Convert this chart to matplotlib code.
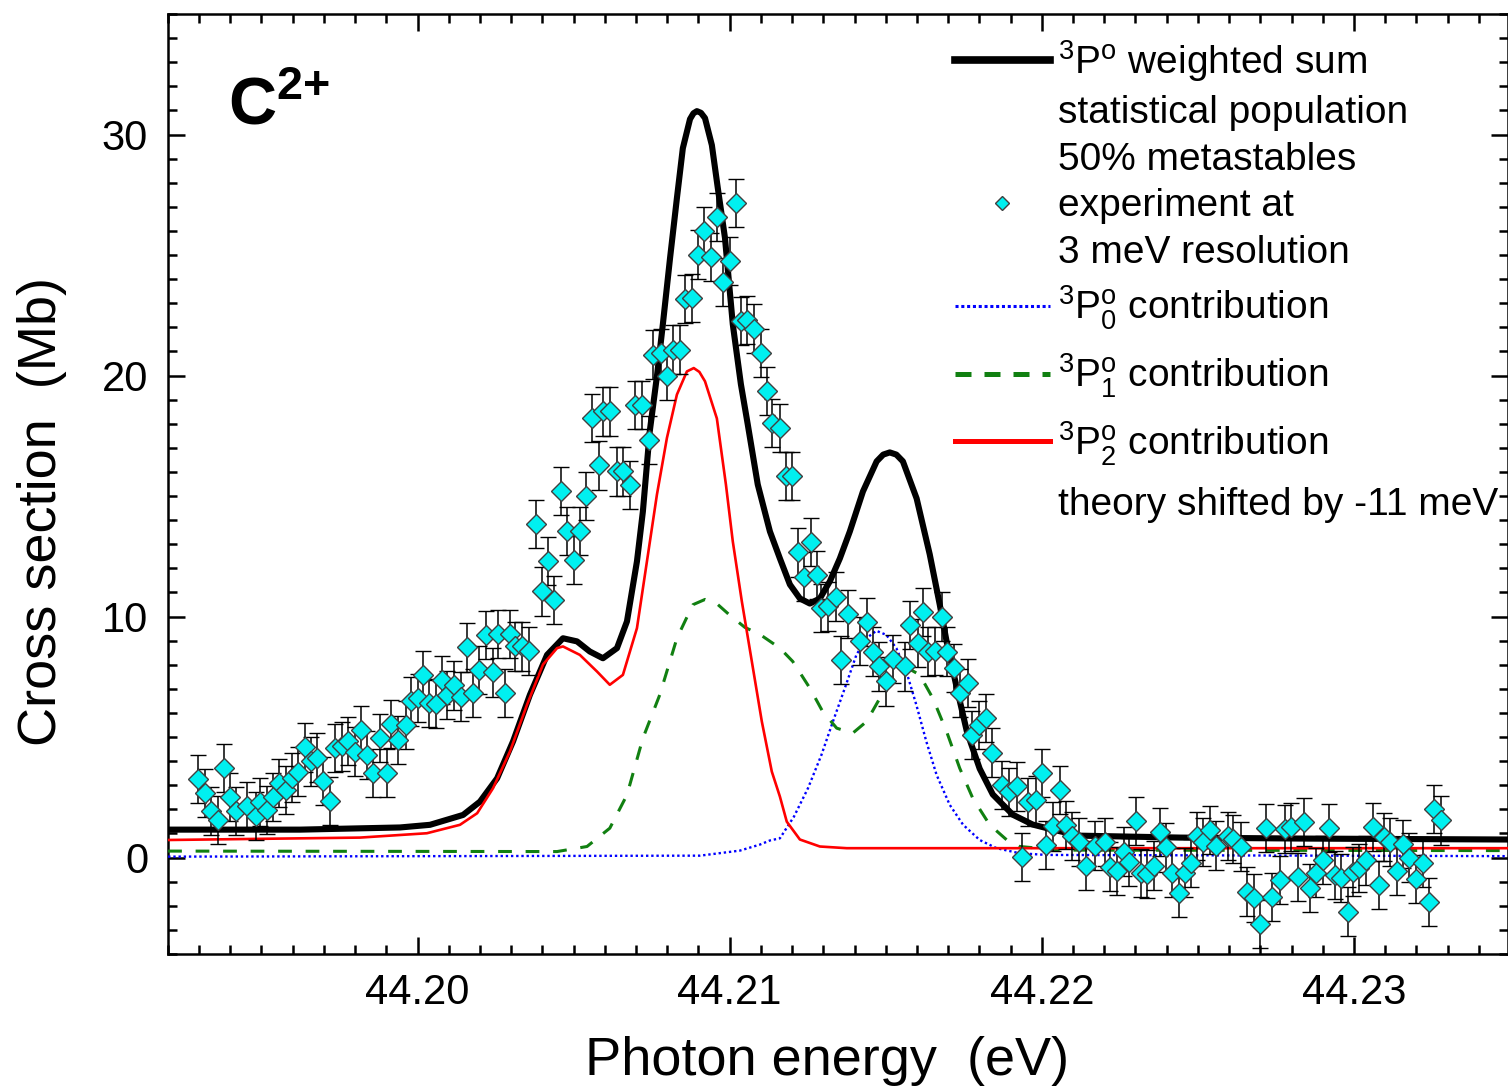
import matplotlib
matplotlib.use("Agg")
import matplotlib.pyplot as plt
from matplotlib.lines import Line2D
from matplotlib.ticker import MultipleLocator, FormatStrFormatter

# experiment (photon energy in eV, cross section in Mb)
exp_e = [44.19298, 44.19320, 44.19338, 44.19362, 44.19380, 44.19400, 44.19419, 44.19455,
         44.19482, 44.19496, 44.19517, 44.19538, 44.19557, 44.19579, 44.19599, 44.19618,
         44.19640, 44.19658, 44.19677, 44.19698, 44.19720, 44.19736, 44.19757, 44.19778,
         44.19800, 44.19819, 44.19839, 44.19858, 44.19880, 44.19901, 44.19915, 44.19939,
         44.19963, 44.19978, 44.20000, 44.20019, 44.20038, 44.20059, 44.20079, 44.20095,
         44.20117, 44.20138, 44.20159, 44.20179, 44.20198, 44.20219, 44.20241, 44.20259,
         44.20280, 44.20296, 44.20312, 44.20334, 44.20358, 44.20379, 44.20400, 44.20419,
         44.20438, 44.20459, 44.20478, 44.20501, 44.20520, 44.20539, 44.20560, 44.20580,
         44.20595, 44.20616, 44.20638, 44.20659, 44.20680, 44.20696, 44.20720, 44.20741,
         44.20755, 44.20779, 44.20798, 44.20817, 44.20841, 44.20857, 44.20880, 44.20897,
         44.20918, 44.20940, 44.20958, 44.20979, 44.21001, 44.21020, 44.21035, 44.21057,
         44.21077, 44.21102, 44.21120, 44.21137, 44.21161, 44.21180, 44.21201, 44.21219,
         44.21238, 44.21259, 44.21280, 44.21294, 44.21315, 44.21340, 44.21358, 44.21379,
         44.21417, 44.21440, 44.21458, 44.21479, 44.21500, 44.21522, 44.21561, 44.21577,
         44.21604, 44.21620, 44.21636, 44.21657, 44.21680, 44.21696, 44.21718, 44.21737,
         44.21762, 44.21778, 44.21799, 44.21820, 44.21841, 44.21874, 44.21895, 44.21919,
         44.21938, 44.21956, 44.21980, 44.22001, 44.22015, 44.22036, 44.22057, 44.22077,
         44.22098, 44.22119, 44.22141, 44.22169, 44.22201, 44.22219, 44.22240, 44.22262,
         44.22280, 44.22301, 44.22317, 44.22336, 44.22358, 44.22379, 44.22399, 44.22418,
         44.22439, 44.22458, 44.22479, 44.22496, 44.22518, 44.22538, 44.22558, 44.22596,
         44.22614, 44.22637, 44.22656, 44.22680, 44.22699, 44.22719, 44.22738, 44.22762,
         44.22778, 44.22797, 44.22820, 44.22840, 44.22859, 44.22879, 44.22901, 44.22920,
         44.22938, 44.22959, 44.22980, 44.22997, 44.23017, 44.23038, 44.23060, 44.23080,
         44.23095, 44.23116, 44.23139, 44.23157, 44.23178, 44.23198, 44.23220, 44.23241,
         44.23258, 44.23280]
exp_cs = [3.27, 2.67, 1.94, 1.56, 3.71, 2.53, 1.94, 2.15,
          1.74, 2.32, 1.98, 2.53, 3.08, 2.81, 3.32, 3.57,
          4.57, 3.99, 4.15, 3.18, 2.35, 4.54, 4.61, 4.84,
          4.40, 5.30, 4.26, 3.50, 4.95, 3.50, 5.53, 4.89,
          5.51, 6.48, 6.61, 7.58, 6.41, 6.36, 7.38, 6.75,
          7.14, 6.68, 8.72, 6.82, 7.79, 9.22, 7.68, 9.27,
          6.82, 9.27, 8.76, 8.76, 8.58, 13.84, 11.04, 12.29,
          10.70, 15.22, 13.56, 12.36, 13.56, 14.99, 18.24, 16.27,
          18.51, 18.51, 16.02, 16.02, 15.47, 18.79, 18.79, 17.34,
          20.87, 20.93, 19.97, 21.08, 21.08, 23.19, 23.22, 25.02,
          26.01, 24.92, 26.57, 23.87, 24.74, 27.16, 22.25, 22.32,
          21.95, 20.93, 19.37, 18.03, 17.82, 15.82, 15.82, 12.66,
          11.66, 13.09, 11.74, 10.35, 10.42, 10.83, 8.21, 10.10,
          8.97, 9.77, 8.55, 7.93, 7.31, 8.25, 7.93, 9.66,
          8.90, 10.18, 8.55, 8.58, 10.00, 8.55, 7.86, 6.82,
          7.24, 5.09, 5.51, 5.78, 4.36, 3.02, 2.71, 2.95,
          0.04, 2.32, 2.37, 3.50, 0.53, 1.29, 2.82, 1.36,
          0.89, 0.66, -0.33, 0.50, 0.66, -0.37, -0.54, 0.25,
          -0.17, 1.52, -0.65, -0.68, -0.33, 1.06, 0.42, -0.62,
          -1.48, -0.62, -0.21, 0.91, 0.66, 1.16, 0.50, 0.91,
          0.77, 0.46, -1.41, -1.68, -2.77, 1.23, -1.62, -0.93,
          1.20, 1.27, -0.79, 1.47, -1.27, -0.62, -0.10, 1.23,
          -0.71, -0.86, -2.24, -0.58, -0.44, -0.12, 1.27, -1.13,
          0.87, 0.66, -0.56, 0.58, 0.00, -0.89, -0.24, -1.83,
          2.03, 1.54]
exp_err = 1.0

# theory: weighted sum
sum_e = [44.19201, 44.19624, 44.19944, 44.20040, 44.20146, 44.20200, 44.20255, 44.20306,
         44.20360, 44.20415, 44.20466, 44.20511, 44.20552, 44.20594, 44.20639, 44.20671,
         44.20703, 44.20722, 44.20744, 44.20767, 44.20786, 44.20809, 44.20831, 44.20850,
         44.20873, 44.20884, 44.20895, 44.20908, 44.20921, 44.20943, 44.20962, 44.20985,
         44.21010, 44.21036, 44.21058, 44.21090, 44.21129, 44.21161, 44.21193, 44.21225,
         44.21257, 44.21289, 44.21321, 44.21353, 44.21385, 44.21427, 44.21471, 44.21492,
         44.21513, 44.21534, 44.21555, 44.21599, 44.21641, 44.21673, 44.21695, 44.21728,
         44.21760, 44.21801, 44.21843, 44.21907, 44.21971, 44.22035, 44.22121, 44.22442,
         44.22826, 44.23492]
sum_cs = [1.16, 1.16, 1.25, 1.36, 1.77, 2.32, 3.29, 4.82,
          6.75, 8.41, 9.10, 8.97, 8.55, 8.27, 8.69, 9.80,
          12.29, 14.36, 17.68, 19.97, 22.13, 24.87, 27.36, 29.43,
          30.64, 30.88, 30.97, 30.90, 30.68, 29.56, 27.78, 25.71,
          22.13, 19.64, 17.97, 15.48, 13.53, 12.41, 11.33, 10.75,
          10.54, 10.75, 11.46, 12.41, 13.53, 15.19, 16.44, 16.72,
          16.81, 16.72, 16.44, 14.90, 12.58, 10.50, 8.97, 7.02,
          5.23, 3.69, 2.62, 1.78, 1.37, 1.16, 0.91, 0.83,
          0.79, 0.75]

# theory: 3P0 contribution
p0_e = [44.19201, 44.20905, 44.21033, 44.21097, 44.21129, 44.21161, 44.21206, 44.21251,
        44.21294, 44.21331, 44.21369, 44.21406, 44.21438, 44.21470, 44.21502, 44.21534,
        44.21566, 44.21598, 44.21630, 44.21663, 44.21705, 44.21748, 44.21801, 44.21855,
        44.21929, 44.22015, 44.23492]
p0_cs = [0.04, 0.08, 0.29, 0.54, 0.71, 0.80, 1.70, 2.88,
         4.26, 5.65, 7.03, 8.41, 9.10, 9.41, 9.24, 8.69,
         7.72, 6.34, 4.82, 3.43, 2.19, 1.36, 0.73, 0.39,
         0.18, 0.11, 0.06]

# theory: 3P1 contribution
p1_e = [44.19201, 44.20447, 44.20543, 44.20616, 44.20671, 44.20722, 44.20776, 44.20831,
        44.20882, 44.20921, 44.20962, 44.21001, 44.21049, 44.21097, 44.21161, 44.21202,
        44.21257, 44.21298, 44.21343, 44.21394, 44.21439, 44.21481, 44.21523, 44.21567,
        44.21609, 44.21651, 44.21695, 44.21737, 44.21779, 44.21833, 44.21888, 44.21929,
        44.22057, 44.23492]
p1_cs = [0.27, 0.25, 0.46, 1.22, 2.60, 4.95, 6.75, 9.10,
         10.49, 10.71, 10.50, 10.05, 9.55, 9.26, 8.69, 8.14,
         7.03, 6.06, 5.37, 5.16, 5.65, 6.61, 7.44, 7.89,
         7.58, 6.61, 5.23, 3.71, 2.46, 1.36, 0.73, 0.46,
         0.31, 0.29]

# theory: 3P2 contribution
p2_e = [44.19201, 44.19816, 44.20030, 44.20136, 44.20191, 44.20242, 44.20296, 44.20351,
        44.20402, 44.20447, 44.20466, 44.20520, 44.20575, 44.20616, 44.20658, 44.20703,
        44.20735, 44.20767, 44.20799, 44.20831, 44.20863, 44.20885, 44.20903, 44.20921,
        44.20959, 44.20988, 44.21010, 44.21039, 44.21071, 44.21103, 44.21135, 44.21161,
        44.21183, 44.21225, 44.21289, 44.21375, 44.23492]
p2_cs = [0.73, 0.83, 1.01, 1.36, 1.84, 2.88, 4.40, 6.35,
         8.01, 8.69, 8.76, 8.41, 7.72, 7.17, 7.58, 9.52,
         12.29, 15.06, 17.41, 19.21, 20.17, 20.31, 20.15, 19.76,
         18.22, 15.48, 13.12, 10.63, 8.14, 5.65, 3.57, 2.53,
         1.49, 0.75, 0.46, 0.39, 0.39]

labels_top = [r"$^{3}$P$^{\mathrm{o}}$ weighted sum",
              "statistical population",
              "50% metastables",
              "experiment at",
              "3 meV resolution"]
labels_bottom = [r"$^{3}$P$^{\mathrm{o}}_{0}$ contribution",
                 r"$^{3}$P$^{\mathrm{o}}_{1}$ contribution",
                 r"$^{3}$P$^{\mathrm{o}}_{2}$ contribution",
                 "theory shifted by -11 meV"]

plt.rcParams["font.family"] = ["Liberation Sans", "DejaVu Sans"]
plt.rcParams["mathtext.fontset"] = "custom"
plt.rcParams["mathtext.rm"] = "Liberation Sans"
plt.rcParams["mathtext.it"] = "Liberation Sans:italic"
plt.rcParams["mathtext.bf"] = "Liberation Sans:bold"

fig = plt.figure(figsize=(15.08, 10.89), dpi=100)
ax = fig.add_axes([167.5 / 1508, 1 - 954 / 1089, 1340 / 1508, 940 / 1089])

ax.plot(sum_e, sum_cs, color="black", lw=4.4, solid_joinstyle="round", zorder=2)
ax.plot(p0_e, p0_cs, color="#0000ff", lw=1.7, ls=(0, (1, 1.2)), zorder=3)
ax.plot(p1_e, p1_cs, color="#118011", lw=2.2, ls=(0, (4.5, 4.5)), zorder=3)
ax.plot(p2_e, p2_cs, color="#ff0000", lw=1.9, zorder=3)

ax.errorbar(exp_e, exp_cs, yerr=exp_err, fmt="D", ms=10.5, mfc="#00f0f0", mec="#404040",
            mew=1.0, ecolor="black", elinewidth=1.1, capsize=6, capthick=1.1, zorder=4)

ax.set_xlim(44.19199, 44.23492)
ax.set_ylim(-4, 35)
ax.xaxis.set_major_locator(MultipleLocator(0.01))
ax.xaxis.set_minor_locator(MultipleLocator(0.001))
ax.xaxis.set_major_formatter(FormatStrFormatter("%.2f"))
ax.yaxis.set_major_locator(MultipleLocator(10))
ax.yaxis.set_minor_locator(MultipleLocator(1))
ax.tick_params(which="both", direction="in", top=True, right=True, width=1.8, labelsize=30)
ax.tick_params(which="major", length=12)
ax.tick_params(which="minor", length=6.5)
ax.tick_params(axis="x", pad=13.5)
ax.tick_params(axis="y", pad=14)
for s in ax.spines.values():
    s.set_linewidth(1.8)

ax.set_xlabel("Photon energy  (eV)", fontsize=39)
ax.set_ylabel("Cross section  (Mb)", fontsize=39)
ax.xaxis.set_label_coords(0.492, -0.0875)
ax.yaxis.set_label_coords(-0.075, 0.471)

ax.text(0.045, 0.882, r"$\mathbf{C^{2{+}}}$", transform=ax.transAxes, fontsize=48,
        va="baseline")

h_top = [Line2D([], [], color="black", lw=5.5),
         Line2D([], [], ls="none"),
         Line2D([], [], ls="none"),
         Line2D([], [], ls="none", marker="D", ms=7.5, mfc="#00f0f0", mec="#404040", mew=1),
         Line2D([], [], ls="none")]
h_bottom = [Line2D([], [], color="#0000ff", lw=2.2, ls=(0, (1, 0.9))),
            Line2D([], [], color="#118011", lw=3.6, ls=(0, (3.2, 2.6))),
            Line2D([], [], color="#ff0000", lw=3.6),
            Line2D([], [], ls="none")]
leg_kw = dict(loc="upper left", frameon=False, fontsize=28, handlelength=2.45,
              handletextpad=0.2, borderpad=0, borderaxespad=0)
leg1 = ax.legend(h_top, labels_top, bbox_to_anchor=(0.5875, 0.9745), labelspacing=0.28, **leg_kw)
ax.add_artist(leg1)
ax.legend(h_bottom, labels_bottom, bbox_to_anchor=(0.5875, 0.713), labelspacing=0.5, **leg_kw)

fig.savefig("out.png", dpi=100)
